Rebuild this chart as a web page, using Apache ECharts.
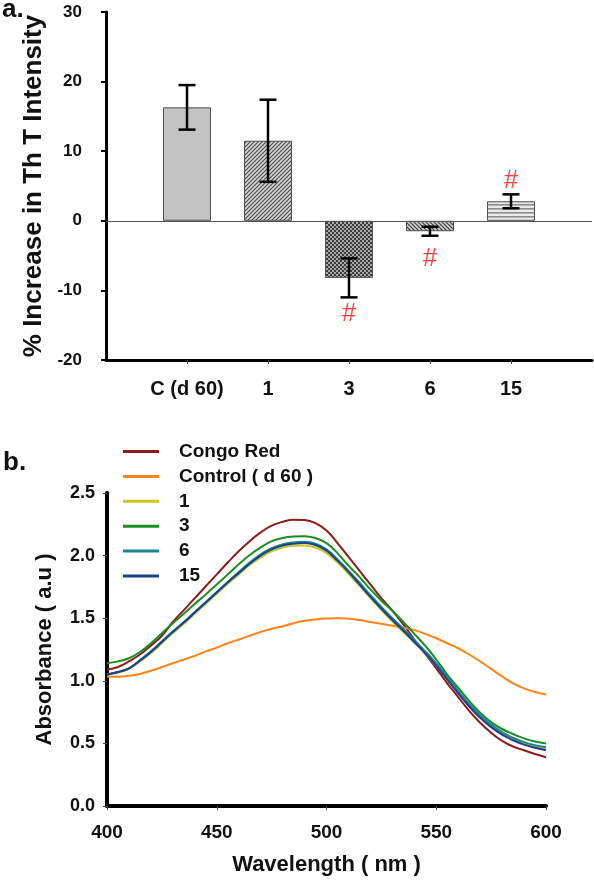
<!DOCTYPE html>
<html>
<head>
<meta charset="utf-8">
<script src="https://cdn.jsdelivr.net/npm/echarts@6/dist/echarts.min.js"></script>
<style>
html,body{margin:0;padding:0;background:#fff;}
#chart{width:594px;height:880px;}
</style>
</head>
<body>
<div id="chart"></div>
<script>
// ---------- Panel a: ThT intensity ----------
const categories = ['C (d 60)', '1', '3', '6', '15'];
const thtMean = [16.3, 11.5, -8.2, -1.5, 2.8];
const thtErr = [3.2, 5.9, 2.8, 0.65, 1.0];
const sigIndex = [2, 3, 4];
const sigY = [-13.3, -5.4, 5.7];

// ---------- Panel b: Absorbance spectra ----------
const wavelengths = [400,405,410,415,420,425,430,435,440,445,450,455,460,465,470,475,480,485,490,495,500,
                     505,510,515,520,525,530,535,540,545,550,555,560,565,570,575,580,585,590,595,600];
const seriesNames = ['Congo Red', 'Control ( d 60 )', '1', '3', '6', '15'];
const congoRed = [1.09,1.11,1.155,1.21,1.28,1.36,1.47,1.565,1.66,1.755,1.85,1.945,2.035,2.115,2.185,2.24,2.27,2.287,2.285,2.26,2.20,
                  2.10,1.99,1.88,1.77,1.66,1.56,1.45,1.33,1.215,1.10,0.98,0.87,0.76,0.665,0.585,0.52,0.475,0.445,0.415,0.39];
const control  = [1.035,1.033,1.04,1.055,1.08,1.11,1.14,1.17,1.20,1.235,1.265,1.30,1.33,1.36,1.39,1.415,1.435,1.46,1.48,1.49,1.497,
                  1.50,1.495,1.485,1.47,1.455,1.44,1.425,1.405,1.375,1.34,1.30,1.26,1.21,1.155,1.095,1.035,0.98,0.94,0.91,0.89];
const d1       = [1.05,1.065,1.095,1.155,1.22,1.30,1.38,1.455,1.535,1.615,1.695,1.775,1.85,1.925,1.985,2.035,2.065,2.078,2.08,2.065,2.02,
                  1.945,1.855,1.76,1.66,1.565,1.475,1.39,1.305,1.215,1.12,1.015,0.91,0.805,0.715,0.64,0.58,0.535,0.50,0.475,0.46];
const d3       = [1.14,1.155,1.18,1.23,1.30,1.38,1.46,1.535,1.615,1.69,1.77,1.85,1.93,2.005,2.065,2.115,2.14,2.152,2.155,2.14,2.10,
                  2.02,1.92,1.83,1.73,1.64,1.56,1.47,1.375,1.28,1.17,1.05,0.945,0.84,0.745,0.67,0.615,0.575,0.54,0.515,0.50];
const d6       = [1.05,1.07,1.10,1.165,1.235,1.315,1.395,1.47,1.55,1.63,1.71,1.79,1.87,1.945,2.01,2.06,2.09,2.105,2.11,2.095,2.05,
                  1.97,1.88,1.785,1.685,1.59,1.50,1.415,1.325,1.235,1.14,1.03,0.92,0.815,0.725,0.65,0.59,0.545,0.51,0.485,0.47];
const d15      = [1.05,1.07,1.10,1.16,1.23,1.31,1.39,1.465,1.545,1.625,1.705,1.785,1.86,1.935,2.00,2.05,2.08,2.095,2.10,2.085,2.04,
                  1.96,1.87,1.77,1.67,1.575,1.485,1.40,1.31,1.22,1.12,1.01,0.90,0.795,0.705,0.63,0.57,0.525,0.49,0.465,0.445];
const lineColors = ['#8b1c1c', '#ff8418', '#c9c91c', '#1e8c1e', '#168a8a', '#1f3f93'];

const FONT = '"Liberation Sans", Arial, Helvetica, sans-serif';

function makePattern(kind) {
  const c = document.createElement('canvas');
  const ctx = c.getContext('2d');
  if (kind === 'diagUp' || kind === 'diagDown') {
    const s = 4;
    c.width = s; c.height = s;
    ctx.fillStyle = kind === 'diagUp' ? '#d4d4d4' : '#cfcfcf';
    ctx.fillRect(0, 0, s, s);
    ctx.strokeStyle = kind === 'diagUp' ? '#4a4a4a' : '#3a3a3a';
    ctx.lineWidth = 1.1;
    ctx.beginPath();
    if (kind === 'diagUp') {
      ctx.moveTo(-1, s + 1); ctx.lineTo(s + 1, -1);
      ctx.moveTo(-1, 1); ctx.lineTo(1, -1);
      ctx.moveTo(s - 1, s + 1); ctx.lineTo(s + 1, s - 1);
    } else {
      ctx.moveTo(-1, -1); ctx.lineTo(s + 1, s + 1);
      ctx.moveTo(s - 1, -1); ctx.lineTo(s + 1, 1);
      ctx.moveTo(-1, s - 1); ctx.lineTo(1, s + 1);
    }
    ctx.stroke();
  } else if (kind === 'check') {
    c.width = 4; c.height = 4;
    ctx.fillStyle = '#a8a8a8';
    ctx.fillRect(0, 0, 4, 4);
    ctx.fillStyle = '#3c3c3c';
    ctx.fillRect(0, 0, 2, 2);
    ctx.fillRect(2, 2, 2, 2);
  } else if (kind === 'horiz') {
    c.width = 4; c.height = 4;
    ctx.fillStyle = '#eaeaea';
    ctx.fillRect(0, 0, 4, 4);
    ctx.fillStyle = '#8c8c8c';
    ctx.fillRect(0, 0, 4, 1.6);
  }
  return { image: c, repeat: 'repeat' };
}

const barFills = [
  '#c3c3c3',
  makePattern('diagUp'),
  makePattern('check'),
  makePattern('diagDown'),
  makePattern('horiz')
];

const barData = thtMean.map((v, i) => ({
  value: [i + 1, v],
  itemStyle: { color: barFills[i], borderColor: '#505050', borderWidth: 1 }
}));
const errData = thtMean.map((v, i) => [i + 1, v - thtErr[i], v + thtErr[i]]);
const sigData = sigIndex.map((ci, k) => [ci + 1, sigY[k]]);

const lineData = [congoRed, control, d1, d3, d6, d15];

const chart = echarts.init(document.getElementById('chart'), null, { renderer: 'canvas' });

const option = {
  animation: false,
  backgroundColor: '#ffffff',
  textStyle: { fontFamily: FONT },
  grid: [
    { left: 106, top: 12, width: 486, height: 348 },
    { left: 107, top: 493, width: 439, height: 313 }
  ],
  xAxis: [
    {
      type: 'value', gridIndex: 0, min: 0, max: 6, interval: 1,
      axisLine: { show: true, onZero: false, lineStyle: { color: '#000', width: 3 } },
      axisTick: { show: true, customValues: [1, 2, 3, 4, 5], length: 4, lineStyle: { color: '#444', width: 1 } },
      axisLabel: {
        customValues: [1, 2, 3, 4, 5],
        formatter: (v) => categories[Math.round(v) - 1] || '',
        fontSize: 20, fontWeight: 'bold', color: '#111', margin: 19, fontFamily: FONT
      },
      splitLine: { show: false }
    },
    {
      type: 'value', gridIndex: 1, min: 400, max: 600, interval: 50,
      name: 'Wavelength ( nm )', nameLocation: 'middle', nameGap: 48,
      nameTextStyle: { fontSize: 22, fontWeight: 'bold', color: '#111', fontFamily: FONT },
      axisLine: { show: true, onZero: false, lineStyle: { color: '#000', width: 4 } },
      axisTick: { show: true, length: 4, lineStyle: { color: '#444', width: 1 } },
      axisLabel: { fontSize: 19, fontWeight: 'bold', color: '#111', margin: 17, fontFamily: FONT },
      splitLine: { show: false }
    }
  ],
  yAxis: [
    {
      type: 'value', gridIndex: 0, min: -20, max: 30, interval: 10,
      name: '% Increase in Th T Intensity', nameLocation: 'middle', nameGap: 56,
      nameTextStyle: { fontSize: 26, fontWeight: 'bold', color: '#111', fontFamily: FONT },
      axisLine: { show: true, lineStyle: { color: '#000', width: 3 } },
      axisTick: { show: true, length: 5, lineStyle: { color: '#000', width: 2 } },
      axisLabel: { fontSize: 17, fontWeight: 'bold', color: '#111', margin: 24, fontFamily: FONT },
      splitLine: { show: false }
    },
    {
      type: 'value', gridIndex: 1, min: 0, max: 2.5, interval: 0.5,
      name: 'Absorbance ( a.u )', nameLocation: 'middle', nameGap: 51,
      nameTextStyle: { fontSize: 22, fontWeight: 'bold', color: '#111', fontFamily: FONT },
      axisLine: { show: true, lineStyle: { color: '#000', width: 4 } },
      axisTick: { show: true, length: 4, lineStyle: { color: '#444', width: 1 } },
      axisLabel: { formatter: (v) => v.toFixed(1), fontSize: 18, fontWeight: 'bold', color: '#111', margin: 12, fontFamily: FONT },
      splitLine: { show: false }
    }
  ],
  legend: {
    show: true,
    orient: 'vertical',
    left: 123, top: 442, padding: 0,
    icon: 'rect',
    itemWidth: 36, itemHeight: 3, itemGap: 5.9,
    selectedMode: false,
    data: seriesNames,
    textStyle: { fontSize: 19, fontWeight: 'bold', color: '#111', fontFamily: FONT, padding: [0, 0, 0, 15] }
  },
  graphic: [
    { type: 'text', left: 2, top: -3, style: { text: 'a.', font: 'bold 26px ' + FONT, fill: '#111' } },
    { type: 'text', left: 3, top: 450, style: { text: 'b.', font: 'bold 26px ' + FONT, fill: '#111' } }
  ],
  series: [
    {
      type: 'bar', xAxisIndex: 0, yAxisIndex: 0, barWidth: 48,
      data: barData,
      markLine: {
        silent: true, symbol: ['none', 'none'], label: { show: false },
        lineStyle: { color: '#555', width: 1, type: 'solid' },
        data: [{ yAxis: 0 }]
      },
      z: 2
    },
    {
      type: 'custom', xAxisIndex: 0, yAxisIndex: 0, z: 5,
      data: errData,
      renderItem: function (params, api) {
        const x = api.value(0);
        const top = api.coord([x, api.value(2)]);
        const bot = api.coord([x, api.value(1)]);
        const hw = 8.5;
        const st = { stroke: '#000', lineWidth: 2.5 };
        return {
          type: 'group',
          children: [
            { type: 'line', shape: { x1: top[0], y1: top[1], x2: bot[0], y2: bot[1] }, style: st },
            { type: 'line', shape: { x1: top[0] - hw, y1: top[1], x2: top[0] + hw, y2: top[1] }, style: st },
            { type: 'line', shape: { x1: bot[0] - hw, y1: bot[1], x2: bot[0] + hw, y2: bot[1] }, style: st }
          ]
        };
      }
    },
    {
      type: 'scatter', xAxisIndex: 0, yAxisIndex: 0, symbolSize: 1,
      itemStyle: { color: 'rgba(0,0,0,0)' },
      data: sigData,
      label: {
        show: true, position: 'inside', formatter: '#',
        color: '#ff1010', fontSize: 26, fontFamily: FONT
      },
      z: 6
    }
  ].concat(lineData.map((arr, i) => ({
    type: 'line', name: seriesNames[i], xAxisIndex: 1, yAxisIndex: 1,
    data: wavelengths.map((w, j) => [w, arr[j]]),
    smooth: 0.45, symbol: 'none', showSymbol: false,
    lineStyle: { color: lineColors[i], width: 2 },
    itemStyle: { color: lineColors[i] },
    z: 3 + i
  })))
};

chart.setOption(option);
</script>
</body>
</html>
